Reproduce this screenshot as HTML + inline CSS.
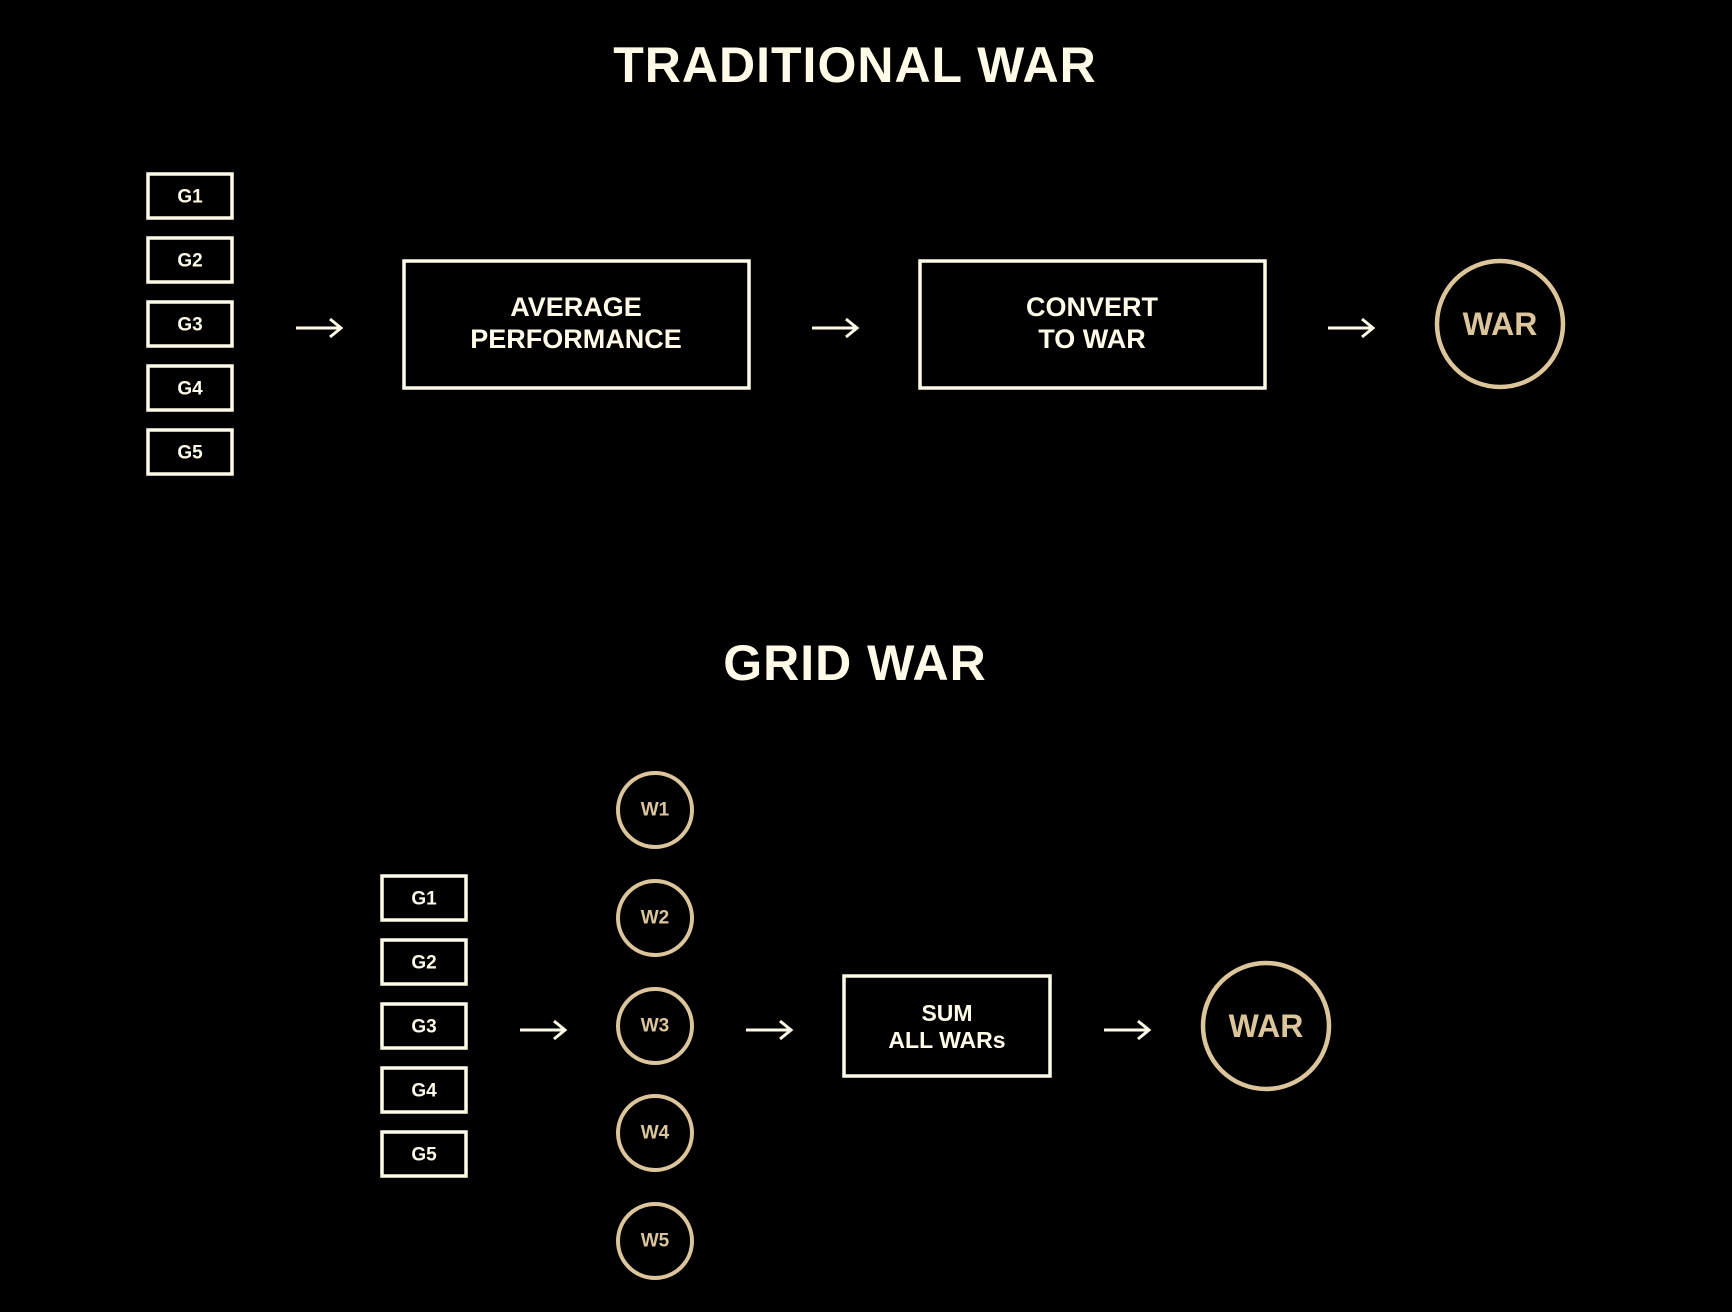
<!DOCTYPE html>
<html><head><meta charset="utf-8"><style>
html,body{margin:0;padding:0;background:#000;}
svg{display:block}
text{font-family:"Liberation Sans",Arial,sans-serif;font-weight:bold;text-anchor:middle;dominant-baseline:central}
</style></head><body>
<svg width="1732" height="1312" viewBox="0 0 1732 1312" xmlns="http://www.w3.org/2000/svg">
<rect width="1732" height="1312" fill="#000"/>
<defs>
<g id="arr"><path d="M0 0 H44 M34 -9 L45 0 L34 9" stroke="#fffbe8" stroke-width="3" fill="none"/></g>
</defs>
<text x="855" y="65" font-size="50" fill="#fffbe8" letter-spacing="1">TRADITIONAL WAR</text>
<g fill="none" stroke="#fffbe8" stroke-width="3.5">
<rect x="148" y="174" width="84" height="44"/>
<rect x="148" y="238" width="84" height="44"/>
<rect x="148" y="302" width="84" height="44"/>
<rect x="148" y="366" width="84" height="44"/>
<rect x="148" y="430" width="84" height="44"/>
<rect x="404" y="261" width="345" height="127"/>
<rect x="920" y="261" width="345" height="127"/>
</g>
<g fill="#fffbe8" font-size="19">
<text x="190" y="197">G1</text><text x="190" y="261">G2</text><text x="190" y="325">G3</text><text x="190" y="389">G4</text><text x="190" y="453">G5</text>
</g>
<g fill="#fffbe8" font-size="27">
<text x="576" y="307">AVERAGE</text><text x="576" y="339">PERFORMANCE</text>
<text x="1092" y="307">CONVERT</text><text x="1092" y="339">TO WAR</text>
</g>
<use href="#arr" x="296" y="328"/>
<use href="#arr" x="812" y="328"/>
<use href="#arr" x="1328" y="328"/>
<circle cx="1500" cy="324" r="63" fill="none" stroke="#dcc59b" stroke-width="4.5"/>
<text x="1500" y="324" font-size="32" fill="#dcc59b">WAR</text>

<text x="855" y="663" font-size="50" fill="#fffbe8" letter-spacing="1">GRID WAR</text>
<g fill="none" stroke="#fffbe8" stroke-width="3.5">
<rect x="382" y="876" width="84" height="44"/>
<rect x="382" y="940" width="84" height="44"/>
<rect x="382" y="1004" width="84" height="44"/>
<rect x="382" y="1068" width="84" height="44"/>
<rect x="382" y="1132" width="84" height="44"/>
<rect x="844" y="976" width="206" height="100"/>
</g>
<g fill="#fffbe8" font-size="19">
<text x="424" y="899">G1</text><text x="424" y="963">G2</text><text x="424" y="1027">G3</text><text x="424" y="1091">G4</text><text x="424" y="1155">G5</text>
</g>
<g fill="#fffbe8" font-size="23">
<text x="947" y="1013">SUM</text><text x="947" y="1040">ALL WARs</text>
</g>
<g fill="none" stroke="#dcc59b" stroke-width="4">
<circle cx="655" cy="810" r="37"/>
<circle cx="655" cy="918" r="37"/>
<circle cx="655" cy="1026" r="37"/>
<circle cx="655" cy="1133" r="37"/>
<circle cx="655" cy="1241" r="37"/>
</g>
<g fill="#dcc59b" font-size="19">
<text x="655" y="810">W1</text><text x="655" y="918">W2</text><text x="655" y="1026">W3</text><text x="655" y="1133">W4</text><text x="655" y="1241">W5</text>
</g>
<use href="#arr" x="520" y="1030"/>
<use href="#arr" x="746" y="1030"/>
<use href="#arr" x="1104" y="1030"/>
<circle cx="1266" cy="1026" r="63" fill="none" stroke="#dcc59b" stroke-width="4.5"/>
<text x="1266" y="1026" font-size="32" fill="#dcc59b">WAR</text>
</svg>
</body></html>
